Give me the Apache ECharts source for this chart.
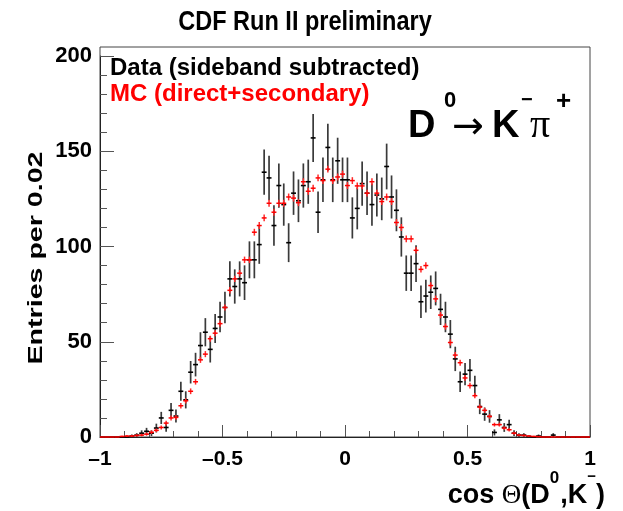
<!DOCTYPE html>
<html>
<head>
<meta charset="utf-8">
<script src="https://cdn.jsdelivr.net/npm/echarts@6/dist/echarts.min.js"></script>
<style>
  html, body { margin: 0; padding: 0; background: #fff; }
  #chart { width: 623px; height: 511px; }
</style>
</head>
<body>
<div id="chart"></div>
<script>
// Histogram binning: 100 bins of width 0.02 on cos(theta) in [-1, 1]
const BIN_LOW = -1;
const BIN_WIDTH = 0.02;
const N_BINS = 100;

// Sideband-subtracted data, entries per bin
const dataValues = [
  0, 0, 0, 0, 0, 0, 0.5, 1, 2, 3,
  2, 4.7, 10, 5, 14, 11, 24, 19.5, 34, 38,
  48, 55, 46, 57, 63, 68, 83, 79, 83, 81,
  93, 93, 101, 139, 136, 111, 132, 122, 102, 128,
  124, 132, 134, 157, 118, 135, 152, 135, 145, 135,
  135, 115, 120, 133, 128, 122, 127, 125, 142, 126,
  119, 105, 86, 86, 91, 71, 74, 76, 78, 67,
  63, 54, 41, 29, 33, 35, 27, 16, 12, 10.8,
  2.4, 9, 5, 6.5, 2, 1, 1, 0.3, 0, 0.5,
  0, 0, 1, 0, 0, 0, 0, 0, 0, 0
];
// Statistical uncertainty on the data
const dataErrors = [
  0, 0, 0, 0, 0, 0, 0.8, 1, 1.5, 1.8,
  1.5, 2.3, 3.2, 2.3, 3.8, 3.4, 5, 4.5, 5.9, 6.2,
  7, 7.4, 6.9, 7.6, 8, 8.3, 9.2, 9, 9.2, 9.1,
  9.7, 9.7, 10.1, 11.9, 11.7, 10.6, 11.6, 11.1, 10.2, 11.4,
  11.2, 11.6, 11.6, 12.6, 10.9, 11.7, 12.4, 11.7, 12.1, 11.7,
  11.7, 10.8, 11, 11.6, 11.4, 11.1, 11.3, 11.2, 12, 11.3,
  11, 10.3, 9.3, 9.3, 9.6, 8.5, 8.6, 8.8, 8.9, 8.2,
  8, 7.4, 6.4, 5.4, 5.8, 5.9, 5.2, 4, 3.5, 3.3,
  1.6, 3, 2.3, 2.6, 1.5, 1, 1, 0.6, 0, 0.8,
  0, 0, 1, 0, 0, 0, 0, 0, 0, 0
];

// Monte Carlo (direct + secondary), normalised to the data
const mcValues = [
  0, 0, 0, 0, 0.3, 0.5, 0.5, 0.8, 1, 1.5,
  2.5, 3.5, 5, 7.3, 10, 10.3, 16.4, 19, 24, 29,
  40.5, 43.5, 51.6, 54.5, 59.5, 68, 77, 83, 86, 93,
  93, 107.5, 111, 115, 122.7, 118, 122.7, 122.7, 126, 125.4,
  123, 134, 129, 130.6, 136, 134.6, 140.6, 134.6, 136.5, 138,
  132, 134.6, 131.8, 131.8, 128, 134, 128, 123.6, 126, 123.6,
  112.6, 110, 104, 104, 98, 88, 90, 79.5, 72.5, 64,
  58, 49.6, 43, 39, 31, 27, 21.7, 15.7, 14, 10.8,
  6.5, 6.5, 4.7, 3.8, 2, 1, 0.8, 0.5, 0.3, 0.2,
  0, 0, 0, 0, 0, 0, 0, 0, 0, 0
];
const mcErrors = [
  0, 0, 0, 0, 0.4, 0.5, 0.5, 0.6, 0.7, 0.8,
  1, 1, 1.1, 1.2, 1.3, 1.3, 1.4, 1.4, 1.5, 1.5,
  1.6, 1.6, 1.6, 1.6, 1.6, 1.6, 1.7, 1.7, 1.7, 1.7,
  1.7, 1.8, 1.8, 1.8, 1.8, 1.8, 1.8, 1.8, 1.8, 1.8,
  1.8, 1.8, 1.8, 1.8, 1.8, 1.8, 1.8, 1.8, 1.8, 1.8,
  1.8, 1.8, 1.8, 1.8, 1.8, 1.8, 1.8, 1.8, 1.8, 1.8,
  1.8, 1.8, 1.8, 1.8, 1.7, 1.7, 1.7, 1.7, 1.7, 1.6,
  1.6, 1.6, 1.6, 1.6, 1.5, 1.5, 1.4, 1.3, 1.3, 1.2,
  1, 1, 0.9, 0.9, 0.8, 0.6, 0.5, 0.4, 0.3, 0.3,
  0, 0, 0, 0, 0, 0, 0, 0, 0, 0
];

// Axis ticks
const xTicks = [-1, -0.5, 0, 0.5, 1];
const yTicks = [0, 50, 100, 150, 200];

const binCenter = i => BIN_LOW + BIN_WIDTH * (i + 0.5);
const toPoints = (vals, errs) => vals.map((v, i) => [binCenter(i), v, errs[i]]);

// Draws a histogram point: horizontal bar over the bin width plus vertical error bar
function errorMarks(hColor, vColor, hWidth, vWidth) {
  return function (params, api) {
    const x = api.value(0), y = api.value(1), e = api.value(2);
    const l = api.coord([x - BIN_WIDTH / 2, y]);
    const r = api.coord([x + BIN_WIDTH / 2, y]);
    const t = api.coord([x, y + e]);
    const b = api.coord([x, Math.max(0, y - e)]);
    const children = [];
    if (e > 0) {
      children.push({ type: 'line', shape: { x1: t[0], y1: t[1], x2: b[0], y2: b[1] },
        style: { stroke: vColor, lineWidth: vWidth } });
    }
    children.push({ type: 'line', shape: { x1: l[0], y1: l[1], x2: r[0], y2: r[1] },
      style: { stroke: hColor, lineWidth: hWidth } });
    return { type: 'group', children };
  };
}

// Text runs with super-scripts, laid out by measuring each piece
const measureCtx = document.createElement('canvas').getContext('2d');
function textRun(x0, pieces, alignRight) {
  const widths = pieces.map(p => {
    measureCtx.font = p.font;
    return measureCtx.measureText(p.t).width + (p.gap || 0);
  });
  const total = widths.reduce((a, b) => a + b, 0);
  let x = alignRight ? x0 - total : x0;
  return pieces.map((p, i) => {
    const el = {
      type: 'text', x: x + (p.dx || 0), y: p.y,
      style: { text: p.t, font: p.font, fill: p.color || '#000',
               align: 'left', verticalAlign: 'middle' }
    };
    x += widths[i];
    return el;
  });
}

const SANS = "'Liberation Sans', Arial, Helvetica, sans-serif";
const SERIF = "'Liberation Serif', 'DejaVu Serif', serif";
const bold = (px) => `bold ${px}px ${SANS}`;

const chart = echarts.init(document.getElementById('chart'), null, { renderer: 'canvas' });

const graphics = [
  // frame
  { type: 'rect', shape: { x: 100, y: 47, width: 490, height: 390 },
    style: { fill: 'none', stroke: '#444', lineWidth: 1 }, z: 1, silent: true },
  // title
  { type: 'text', x: 305, y: 22, scaleX: 0.84,
    style: { text: 'CDF Run II preliminary', font: bold(28), fill: '#000',
             align: 'center', verticalAlign: 'middle' } },
  // legend lines
  { type: 'text', x: 110, y: 68,
    style: { text: 'Data (sideband subtracted)', font: bold(24), fill: '#000',
             align: 'left', verticalAlign: 'middle' }, z: 10 },
  { type: 'text', x: 110, y: 94,
    style: { text: 'MC (direct+secondary)', font: bold(24), fill: '#ff0000',
             align: 'left', verticalAlign: 'middle' }, z: 10 },
  // y axis title
  { type: 'text', x: 36, y: 258, rotation: Math.PI / 2, scaleX: 1.43,
    style: { text: 'Entries per 0.02', font: bold(20), fill: '#000',
             align: 'center', verticalAlign: 'middle' } }
];

// decay channel label
graphics.push(...[
  { type: 'text', x: 408, y: 127, style: { text: 'D', font: bold(38), fill: '#000', verticalAlign: 'middle' } },
  { type: 'text', x: 444, y: 101, style: { text: '0', font: bold(22), fill: '#000', verticalAlign: 'middle' } },
  { type: 'text', x: 452, y: 128, style: { text: '\u2192', font: `38px 'DejaVu Sans', sans-serif`, fill: '#000', verticalAlign: 'middle' } },
  { type: 'text', x: 492, y: 127, style: { text: 'K', font: bold(38), fill: '#000', verticalAlign: 'middle' } },
  { type: 'text', x: 521, y: 100, style: { text: '\u2212', font: bold(20), fill: '#000', verticalAlign: 'middle' } },
  { type: 'text', x: 530, y: 126, style: { text: '\u03c0', font: `40px ${SERIF}`, fill: '#000', verticalAlign: 'middle' } },
  { type: 'text', x: 556, y: 102, style: { text: '+', font: bold(26), fill: '#000', verticalAlign: 'middle' } }
]);

// x axis title: cos Θ(D⁰,K⁻)
graphics.push(...textRun(605, [
  { t: 'cos ', font: bold(27), y: 496 },
  { t: '\u0398', font: `27px ${SERIF}`, y: 496 },
  { t: '(D', font: bold(27), y: 496 },
  { t: '0', font: bold(17), y: 478, gap: 1 },
  { t: ',K', font: bold(27), y: 496 },
  { t: '\u2212', font: bold(15), y: 477 },
  { t: ')', font: bold(27), y: 496 }
], true));

const option = {
  animation: false,
  backgroundColor: '#fff',
  grid: { left: 100, right: 33, top: 56, bottom: 74, containLabel: false },
  xAxis: {
    type: 'value', min: xTicks[0], max: xTicks[xTicks.length - 1], interval: 0.5,
    axisLine: { show: true, onZero: false, lineStyle: { color: '#000', width: 1 } },
    axisTick: { show: true, inside: true, length: 12, lineStyle: { color: '#555', width: 1 } },
    minorTick: { show: true, splitNumber: 5, length: 6, lineStyle: { color: '#555', width: 1 } },
    splitLine: { show: false },
    axisLabel: {
      margin: 12, color: '#000', fontSize: 21, fontWeight: 'bold', fontFamily: SANS,
      formatter: v => String(v).replace('-', '\u2013')
    }
  },
  yAxis: {
    type: 'value', min: yTicks[0], max: yTicks[yTicks.length - 1], interval: 50,
    axisLine: { show: true, onZero: false, lineStyle: { color: '#000', width: 1 } },
    axisTick: { show: true, inside: true, length: 14, lineStyle: { color: '#555', width: 1 } },
    minorTick: { show: true, splitNumber: 5, length: 7, lineStyle: { color: '#555', width: 1 } },
    splitLine: { show: false },
    axisLabel: { margin: 8, color: '#000', fontSize: 22, fontWeight: 'bold', fontFamily: SANS }
  },
  series: [
    {
      name: 'Data', type: 'custom', clip: false, z: 3,
      renderItem: errorMarks('#000', '#3a3a3a', 1.6, 1.7),
      data: toPoints(dataValues, dataErrors)
    },
    {
      name: 'MC', type: 'custom', clip: false, z: 4,
      renderItem: errorMarks('#ff0000', '#ff2a2a', 1.5, 1.5),
      data: toPoints(mcValues, mcErrors)
    }
  ],
  graphic: graphics
};

chart.setOption(option);
</script>
</body>
</html>
